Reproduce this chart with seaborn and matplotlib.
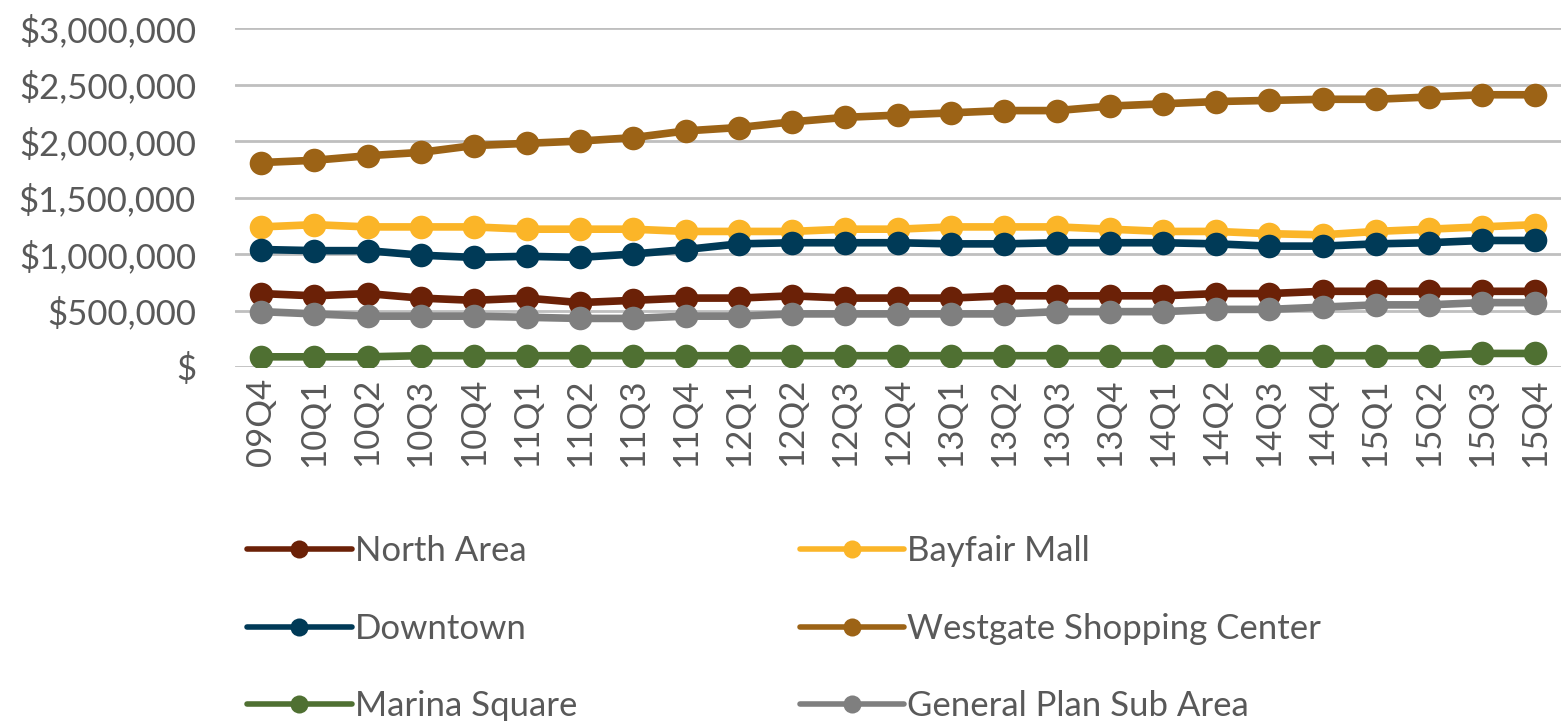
import matplotlib.pyplot as plt
import matplotlib.ticker as mticker
import pandas as pd
import seaborn as sns

# Quarter labels and series values (dollars)
quarters = ['09Q4', '10Q1', '10Q2', '10Q3', '10Q4', '11Q1', '11Q2', '11Q3', '11Q4',
            '12Q1', '12Q2', '12Q3', '12Q4', '13Q1', '13Q2', '13Q3', '13Q4',
            '14Q1', '14Q2', '14Q3', '14Q4', '15Q1', '15Q2', '15Q3', '15Q4']

north_area = [650000, 630000, 650000, 610000, 590000, 610000, 570000, 590000, 610000,
              610000, 630000, 610000, 610000, 610000, 630000, 630000, 630000,
              630000, 650000, 650000, 670000, 670000, 670000, 670000, 670000]
bayfair_mall = [1240000, 1260000, 1240000, 1240000, 1240000, 1220000, 1220000, 1220000, 1200000,
                1200000, 1200000, 1220000, 1220000, 1240000, 1240000, 1240000, 1220000,
                1200000, 1200000, 1180000, 1170000, 1200000, 1220000, 1240000, 1260000]
downtown = [1040000, 1030000, 1030000, 990000, 970000, 980000, 970000, 1000000, 1040000,
            1090000, 1100000, 1100000, 1100000, 1090000, 1090000, 1100000, 1100000,
            1100000, 1090000, 1070000, 1070000, 1090000, 1100000, 1120000, 1120000]
westgate = [1810000, 1830000, 1870000, 1900000, 1960000, 1980000, 2000000, 2030000, 2090000,
            2120000, 2170000, 2210000, 2230000, 2250000, 2270000, 2270000, 2310000,
            2330000, 2350000, 2360000, 2370000, 2370000, 2390000, 2410000, 2410000]
marina_square = [90000, 90000, 90000, 100000, 100000, 100000, 100000, 100000, 100000,
                 100000, 100000, 100000, 100000, 100000, 100000, 100000, 100000,
                 100000, 100000, 100000, 100000, 100000, 100000, 120000, 120000]
general_plan = [490000, 470000, 450000, 450000, 450000, 440000, 430000, 430000, 450000,
                450000, 470000, 470000, 470000, 470000, 470000, 490000, 490000,
                490000, 510000, 510000, 530000, 550000, 550000, 570000, 570000]

series = {
    'North Area': north_area,
    'Bayfair Mall': bayfair_mall,
    'Downtown': downtown,
    'Westgate Shopping Center': westgate,
    'Marina Square': marina_square,
    'General Plan Sub Area': general_plan,
}
colors = {
    'North Area': '#6B2107',
    'Bayfair Mall': '#FBB528',
    'Downtown': '#003A57',
    'Westgate Shopping Center': '#9C6316',
    'Marina Square': '#4F7032',
    'General Plan Sub Area': '#7F7F7F',
}

df = pd.DataFrame([
    {'quarter': q, 'value': v, 'area': name}
    for name, vals in series.items() for q, v in zip(quarters, vals)
])

sns.set_style('white')
plt.rcParams['font.family'] = ['Lato', 'DejaVu Sans']

fig = plt.figure(figsize=(15.66, 7.21), dpi=100)
ax = fig.add_axes([0.150, 0.491, 0.847, 0.470])

sns.lineplot(data=df, x='quarter', y='value', hue='area', palette=colors,
             hue_order=list(series.keys()), marker='o', markersize=17,
             markeredgewidth=0, linewidth=5.5, ax=ax, legend=False, sort=False)

ax.set_ylim(0, 3000000)
ax.set_xlim(-0.5, len(quarters) - 0.5)
ax.yaxis.set_major_locator(mticker.MultipleLocator(500000))
ax.yaxis.set_major_formatter(mticker.FuncFormatter(
    lambda v, p: '$' if v == 0 else '${:,.0f}'.format(v)))
ax.grid(axis='y', color='#BFBFBF', linewidth=2)
ax.set_axisbelow(True)
for s in ax.spines.values():
    s.set_visible(False)
ax.tick_params(axis='both', length=0, labelsize=25, labelcolor='#595959')
ax.tick_params(axis='x', labelrotation=90, pad=8)
ax.tick_params(axis='y', pad=28)
ax.set_xlabel('')
ax.set_ylabel('')

# legend, row-major like the original: fill columns in matplotlib order
order = ['North Area', 'Downtown', 'Marina Square',
         'Bayfair Mall', 'Westgate Shopping Center', 'General Plan Sub Area']
handles = [plt.Line2D([], [], color=colors[n], linewidth=4, marker='o',
                      markersize=13, markeredgewidth=0) for n in order]
fig.legend(handles, order, ncol=2, loc='lower left', bbox_to_anchor=(0.138, -0.045),
           frameon=False, fontsize=25, labelcolor='#595959', handlelength=3.0,
           handletextpad=0.1, labelspacing=1.31, columnspacing=6.4)

fig.savefig('out.png', dpi=100)
